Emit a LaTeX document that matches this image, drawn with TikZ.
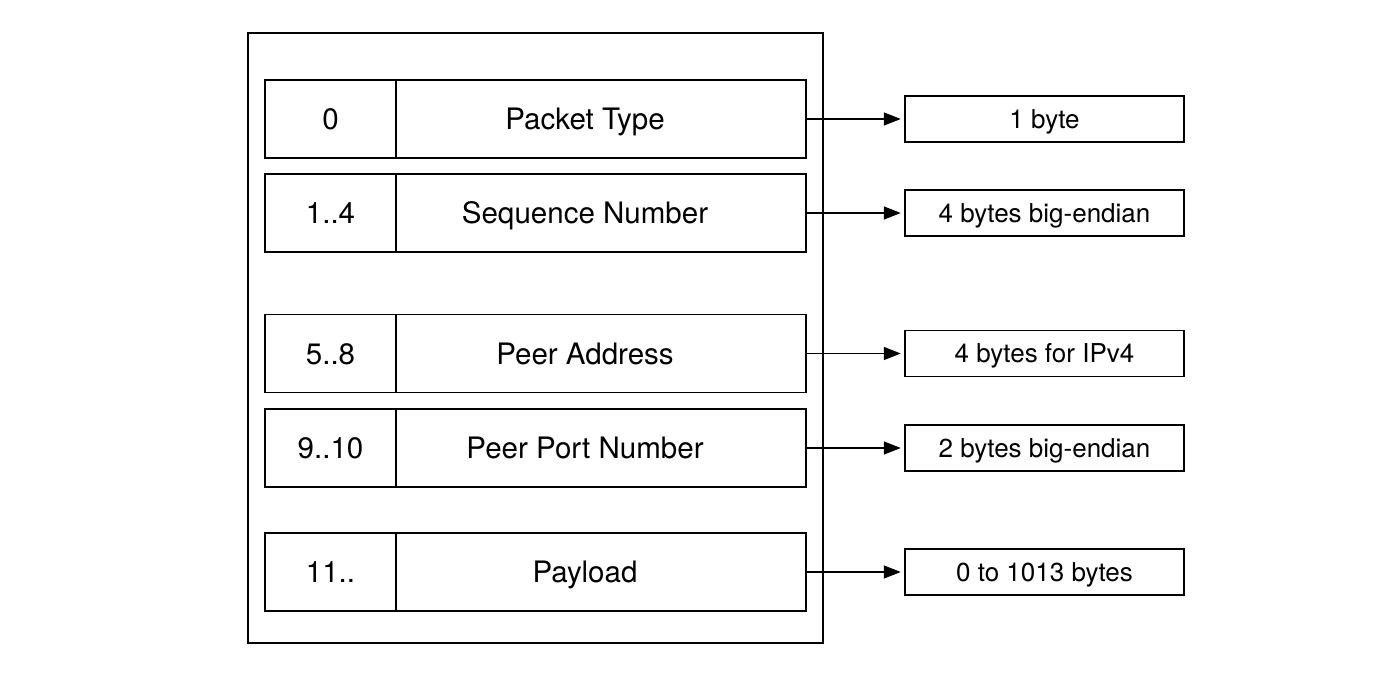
\documentclass[tikz,border=0pt]{standalone}
\usepackage{fontspec}
\setmainfont{TeX Gyre Heros}
\usepackage{tikz}
\usetikzlibrary{arrows.meta}

\begin{document}
\begin{tikzpicture}[
	numcell/.style={draw, line width=0.8pt, minimum width=2.62cm, minimum height=1.56cm, inner sep=0pt, text height=16.1pt, text depth=4pt, font=\fontsize{16.8}{18}\selectfont},
	fieldcell/.style={numcell, minimum width=8.2cm, execute at end node={\hspace{0.64cm}}},
	sizebox/.style={draw, line width=0.8pt, minimum width=5.58cm, minimum height=0.92cm, inner sep=0pt, text height=14.66pt, text depth=4pt, font=\fontsize{14.8}{16}\selectfont},
	link/.style={-{Triangle[length=3.4mm,width=2.6mm]}, line width=0.8pt, shorten >=2pt}]
	\useasboundingbox (0,0) rectangle (27.56,13.88);
	\draw [line width=0.8pt](4.96,1.02) rectangle (16.46,13.22);
	\node [numcell] (num0) at (6.61,11.5){0};
	\node [fieldcell] (type) at (12.02,11.5){Packet Type};
	\node [numcell] (num1) at (6.61,9.62){1..4};
	\node [fieldcell] (seq) at (12.02,9.62){Sequence Number};
	\node [numcell] (num5) at (6.61,6.81){5..8};
	\node [fieldcell] (addr) at (12.02,6.81){Peer Address};
	\node [numcell] (num9) at (6.61,4.92){9..10};
	\node [fieldcell] (port) at (12.02,4.92){Peer Port Number};
	\node [numcell] (num11) at (6.61,2.44){11..};
	\node [fieldcell] (payload) at (12.02,2.44){Payload};
	\node [sizebox] (typesize) at (20.89,11.5){1 byte};
	\node [sizebox] (seqsize) at (20.89,9.62){4 bytes big-endian};
	\node [sizebox] (addrsize) at (20.89,6.81){4 bytes for IPv4};
	\node [sizebox] (portsize) at (20.89,4.92){2 bytes big-endian};
	\node [sizebox] (payloadsize) at (20.89,2.44){0 to 1013 bytes};
	\draw [link](type.east)--(typesize.west);
	\draw [link](seq.east)--(seqsize.west);
	\draw [link](addr.east)--(addrsize.west);
	\draw [link](port.east)--(portsize.west);
	\draw [link](payload.east)--(payloadsize.west);
\end{tikzpicture}
\end{document}
